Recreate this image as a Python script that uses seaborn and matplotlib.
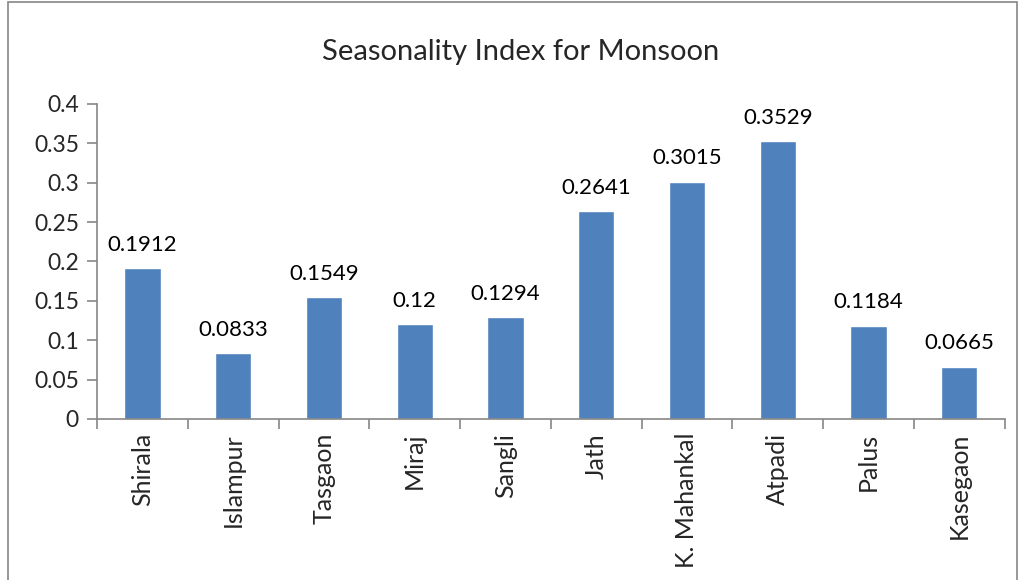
import matplotlib
matplotlib.use("Agg")
import matplotlib.pyplot as plt
import seaborn as sns
import numpy as np
import pandas as pd
from matplotlib.patches import Rectangle

categories = ["Shirala", "Islampur", "Tasgaon", "Miraj", "Sangli", "Jath",
              "K. Mahankal", "Atpadi", "Palus", "Kasegaon"]
values = [0.1912, 0.0833, 0.1549, 0.12, 0.1294, 0.2641, 0.3015, 0.3529, 0.1184, 0.0665]
labels = ["0.1912", "0.0833", "0.1549", "0.12", "0.1294", "0.2641", "0.3015", "0.3529", "0.1184", "0.0665"]
yticks = [0, 0.05, 0.1, 0.15, 0.2, 0.25, 0.3, 0.35, 0.4]
ytick_labels = ["0", "0.05", "0.1", "0.15", "0.2", "0.25", "0.3", "0.35", "0.4"]

sns.set_style("white")
plt.rcParams['font.family'] = ['Lato', 'DejaVu Sans']

df = pd.DataFrame({"cat": categories, "val": values})

fig = plt.figure(figsize=(10.21, 5.8), dpi=100)
ax = fig.add_axes([0.095, 0.2776, 0.889, 0.5431])
sns.barplot(data=df, x="cat", y="val", color="#4F81BD", saturation=1, width=0.4, ax=ax)

for i, (v, t) in enumerate(zip(values, labels)):
    ax.text(i, v + 0.017, t, ha="center", va="bottom", fontsize=16, color="black")

ax.set_xlim(-0.5, len(categories) - 0.5)
ax.set_ylim(0, 0.4)
ax.set_yticks(yticks)
ax.set_yticklabels(ytick_labels, fontsize=16.5)
ax.set_xticks(range(len(categories)))
ax.set_xticklabels(categories, rotation=90, fontsize=18)
ax.tick_params(axis="x", which="major", bottom=True, length=0, pad=10)
ax.set_xticks(np.arange(-0.5, len(categories), 1), minor=True)
ax.tick_params(axis="x", which="minor", bottom=True, length=7, color="#868686", width=1.2, direction="out")
ax.tick_params(axis="y", left=True, length=7, color="#868686", width=1.2, direction="out", pad=6)
ax.set_xlabel("")
ax.set_ylabel("")
for s in ["top", "right"]:
    ax.spines[s].set_visible(False)
for s in ["left", "bottom"]:
    ax.spines[s].set_color("#868686")
    ax.spines[s].set_linewidth(1.2)

fig.text(0.51, 0.91, "Seasonality Index for Monsoon", ha="center", va="center", fontsize=21)
fig.patches.append(Rectangle((0.008, -0.01), 0.988, 1.007, transform=fig.transFigure,
                             fill=False, edgecolor="#868686", linewidth=1.2))

fig.savefig("out.png", dpi=100)
